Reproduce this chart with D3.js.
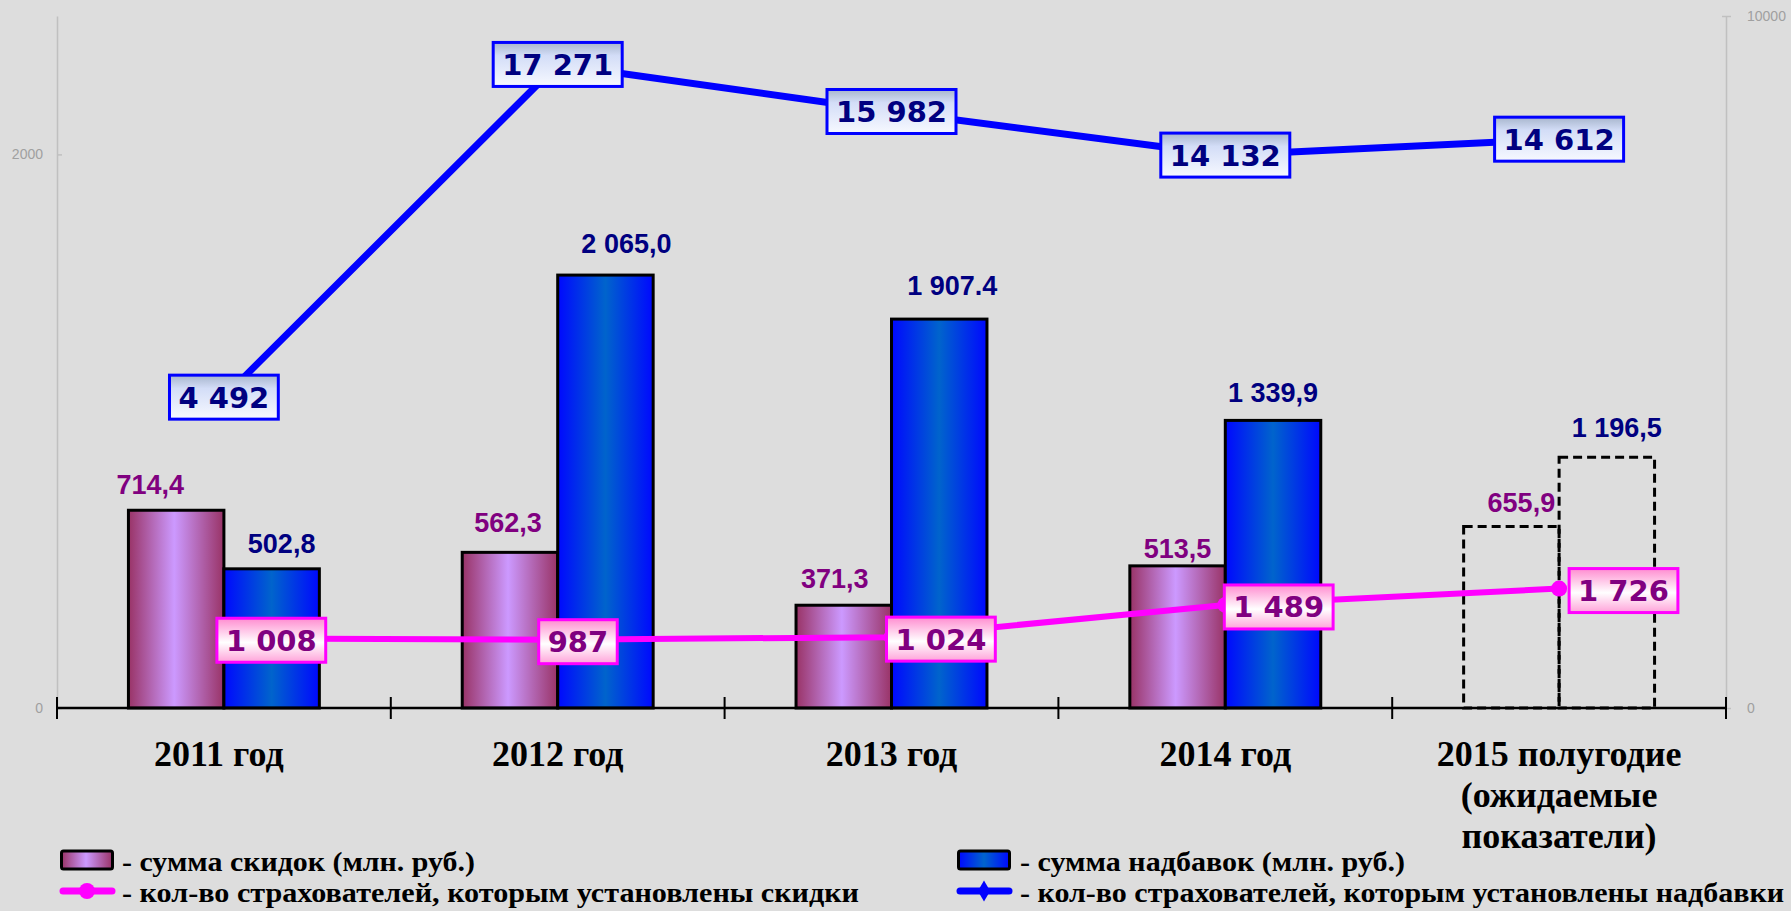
<!DOCTYPE html>
<html>
<head>
<meta charset="utf-8">
<title>Скидки и надбавки</title>
<script src="https://cdn.jsdelivr.net/npm/d3@7"></script>
<style>
body { margin: 0; background: #dddddd; }
svg { display: block; }
.axis-gray path, .axis-gray line { stroke: #c0c0c0; stroke-width: 1.5; }
.axis-gray text { fill: #a0a0a0; font-family: "Liberation Sans", Arial, sans-serif; font-size: 14px; }
.bar-label { font-family: "Liberation Sans", Arial, sans-serif; font-weight: bold; font-size: 27px; text-anchor: middle; }
.box-label { font-family: "DejaVu Sans", Verdana, sans-serif; font-weight: bold; font-size: 29px; }
.cat-label { font-family: "Liberation Serif", "Times New Roman", serif; font-weight: bold; font-size: 36px; text-anchor: middle; }
.legend text { font-family: "Liberation Serif", "Times New Roman", serif; font-weight: bold; font-size: 28px; }
</style>
</head>
<body>
<div id="chart"></div>
<script>

// categories (x axis)
var years = [["2011 год"], ["2012 год"], ["2013 год"], ["2014 год"], ["2015 полугодие", "(ожидаемые", "показатели)"]];
var forecast = [false, false, false, false, true];   // last year drawn as dashed outline

// сумма скидок (млн. руб.) - left axis
var discountSum = [714.4, 562.3, 371.3, 513.5, 655.9];
var discountSumText = ["714,4", "562,3", "371,3", "513,5", "655,9"];

// сумма надбавок (млн. руб.) - bar heights as read against the left axis, labels as printed
var surchargeSum = [502.8, 1564, 1405, 1039, 906];
var surchargeSumText = ["502,8", "2 065,0", "1 907.4", "1 339,9", "1 196,5"];

// кол-во страхователей со скидками - right axis
var discountCount = [1008, 987, 1024, 1489, 1726];
var discountCountText = ["1 008", "987", "1 024", "1 489", "1 726"];

// кол-во страхователей с надбавками - heights as read against the right axis, labels as printed
var surchargeCount = [4492, 9300, 8620, 7990, 8220];
var surchargeCountText = ["4 492", "17 271", "15 982", "14 132", "14 612"];

var leftTicks = [0, 2000];
var rightTicks = [0, 10000];

var legendItems = [
	{type: "bar", fill: "gradPink", text: "- сумма скидок (млн. руб.)"},
	{type: "bar", fill: "gradBlue", text: "- сумма надбавок (млн. руб.)"},
	{type: "line", color: "#ff00ff", marker: "circle", text: "- кол-во страхователей, которым установлены скидки"},
	{type: "line", color: "#0000ff", marker: "diamond", text: "- кол-во страхователей, которым установлены надбавки"}
];

var width = 1791,
	height = 911;

var x = d3.scaleBand()
	.domain(d3.range(years.length))
	.range([57, 1726]);

var barW = x.bandwidth() * 0.286;

var yL = d3.scaleLinear().domain([0, 2500]).range([708, 16]);
var yR = d3.scaleLinear().domain([0, 10000]).range([708, 16]);

function cx(i) { return x(i) + x.bandwidth() / 2; }

var svg = d3.select("#chart")
	.append("svg")
	.attr("width", width)
	.attr("height", height);

svg.append("rect").attr("width", width).attr("height", height).attr("fill", "#dddddd");

// gradients
var defs = svg.append("defs");

function gradient(id, vertical, stops) {
	var g = defs.append("linearGradient").attr("id", id)
		.attr("x1", 0).attr("y1", 0)
		.attr("x2", vertical ? 0 : 1).attr("y2", vertical ? 1 : 0);
	stops.forEach(function(s) {
		g.append("stop").attr("offset", s[0]).attr("stop-color", s[1]);
	});
}
gradient("gradPink", false, [[0, "#993366"], [0.48, "#cc99ff"], [1, "#993366"]]);
gradient("gradBlue", false, [[0, "#0008ff"], [0.5, "#0064cc"], [1, "#0008ff"]]);
gradient("boxBlue", true, [[0, "#a7b5cc"], [0.3, "#d3ddf7"], [1, "#f7f9ff"]]);
gradient("boxPink", true, [[0, "#ff8cd0"], [0.55, "#ffffff"], [1, "#ffa2d9"]]);

// gray value axes
var gLeft = svg.append("g")
	.attr("class", "axis-gray")
	.attr("transform", "translate(" + x.range()[0] + ",0)")
	.call(d3.axisLeft(yL).tickValues(leftTicks).tickSizeInner(4).tickSizeOuter(0).tickPadding(10).tickFormat(d3.format("d")));
gLeft.selectAll(".tick line").attr("x2", 5);

var gRight = svg.append("g")
	.attr("class", "axis-gray")
	.attr("transform", "translate(" + x.range()[1] + ",0)")
	.call(d3.axisRight(yR).tickValues(rightTicks).tickSizeInner(5).tickSizeOuter(0).tickPadding(16).tickFormat(d3.format("d")));
gRight.selectAll(".tick line").attr("x1", -4);

// bars
var cat = svg.selectAll(".cat")
	.data(d3.range(years.length))
	.enter().append("g")
	.attr("class", "cat")
	.attr("transform", function(i) { return "translate(" + cx(i) + ",0)"; });

function bars(values, offset, fill) {
	cat.append("rect")
		.attr("x", offset)
		.attr("y", function(i) { return yL(values[i]); })
		.attr("width", barW)
		.attr("height", function(i) { return yL(0) - yL(values[i]); })
		.attr("fill", function(i) { return forecast[i] ? "none" : "url(#" + fill + ")"; })
		.attr("stroke", "#000")
		.attr("stroke-width", 3)
		.attr("stroke-dasharray", function(i) { return forecast[i] ? "9,5" : null; });
}
bars(discountSum, -barW, "gradPink");
bars(surchargeSum, 0, "gradBlue");

// x axis
svg.append("line")
	.attr("x1", x.range()[0]).attr("x2", x.range()[1])
	.attr("y1", yL(0)).attr("y2", yL(0))
	.attr("stroke", "#000").attr("stroke-width", 2.5);

var bounds = x.domain().map(function(i) { return x(i); }).concat([x.range()[1]]);
svg.selectAll(".xtick")
	.data(bounds)
	.enter().append("line")
	.attr("class", "xtick")
	.attr("x1", function(d) { return d; }).attr("x2", function(d) { return d; })
	.attr("y1", yL(0) - 11).attr("y2", yL(0) + 11)
	.attr("stroke", "#000").attr("stroke-width", 2);

// bar value labels (hand placed in the original, small nudges)
var pinkNudge = [[-26, 16], [-2, 20], [-9, 17], [0, 8], [10, 14]];
var blueNudge = [[10, 16], [21, 22], [13, 24], [0, 18], [10, 20]];

cat.append("text")
	.attr("class", "bar-label")
	.attr("fill", "#800080")
	.attr("x", function(i) { return -barW / 2 + pinkNudge[i][0]; })
	.attr("y", function(i) { return yL(discountSum[i]) - pinkNudge[i][1]; })
	.text(function(i) { return discountSumText[i]; });

cat.append("text")
	.attr("class", "bar-label")
	.attr("fill", "#000080")
	.attr("x", function(i) { return barW / 2 + blueNudge[i][0]; })
	.attr("y", function(i) { return yL(surchargeSum[i]) - blueNudge[i][1]; })
	.text(function(i) { return surchargeSumText[i]; });

// lines
function drawLine(values, color, w) {
	var line = d3.line()
		.x(function(d, i) { return cx(i); })
		.y(function(d) { return yR(d); });
	svg.append("path")
		.datum(values)
		.attr("d", line)
		.attr("fill", "none")
		.attr("stroke", color)
		.attr("stroke-width", w)
		.attr("stroke-linejoin", "round");
}
drawLine(surchargeCount, "#0000ff", 7);
drawLine(discountCount, "#ff00ff", 6);

svg.selectAll(".dotPink")
	.data(discountCount)
	.enter().append("circle")
	.attr("cx", function(d, i) { return cx(i); })
	.attr("cy", function(d) { return yR(d); })
	.attr("r", 8)
	.attr("fill", "#ff00ff");

svg.selectAll(".dotBlue")
	.data(surchargeCount)
	.enter().append("path")
	.attr("d", d3.symbol(d3.symbolDiamond).size(160))
	.attr("transform", function(d, i) { return "translate(" + cx(i) + "," + yR(d) + ")"; })
	.attr("fill", "#0000ff");

// boxed labels on the lines
function boxLabel(tx, ty, str, anchorLeft, fill, stroke, color) {
	var g = svg.append("g");
	var t = g.append("text")
		.attr("class", "box-label")
		.attr("fill", color)
		.text(str);
	var w = t.node().getComputedTextLength(),
		bw = w + 18,
		bh = 44,
		left = anchorLeft ? tx : tx - bw / 2;
	t.attr("x", left + 9).attr("y", ty + 10.5);
	g.insert("rect", "text")
		.attr("x", left).attr("y", ty - bh / 2)
		.attr("width", bw).attr("height", bh)
		.attr("fill", "url(#" + fill + ")")
		.attr("stroke", stroke)
		.attr("stroke-width", 3);
}

surchargeCount.forEach(function(v, i) {
	boxLabel(cx(i), yR(v), surchargeCountText[i], false, "boxBlue", "#0000ff", "#000080");
});

var pinkBoxDx = [-7, -19, -5, -1, 10];
discountCount.forEach(function(v, i) {
	boxLabel(cx(i) + pinkBoxDx[i], yR(v) + 2, discountCountText[i], true, "boxPink", "#ff00ff", "#800080");
});

// category labels
var catText = svg.selectAll(".cat-label")
	.data(years)
	.enter().append("text")
	.attr("class", "cat-label")
	.attr("fill", "#000")
	.attr("y", 766);
catText.selectAll("tspan")
	.data(function(d, i) { return d.map(function(s) { return {s: s, i: i}; }); })
	.enter().append("tspan")
	.attr("x", function(d) { return cx(d.i) + (d.i == 0 ? -5 : 0); })
	.attr("dy", function(d, j) { return j == 0 ? 0 : 41; })
	.text(function(d) { return d.s; });

// legend
var legendPos = [[60, 860, 353], [957, 860, 385], [60, 891, 737], [957, 891, 764]];
var legend = svg.selectAll(".legend")
	.data(legendItems)
	.enter().append("g")
	.attr("class", "legend")
	.attr("transform", function(d, i) { return "translate(" + legendPos[i][0] + "," + legendPos[i][1] + ")"; });

legend.filter(function(d) { return d.type == "bar"; })
	.append("rect")
	.attr("x", 1.5).attr("y", -9)
	.attr("width", 51).attr("height", 18)
	.attr("rx", 2)
	.attr("fill", function(d) { return "url(#" + d.fill + ")"; })
	.attr("stroke", "#000")
	.attr("stroke-width", 3);

var lineItems = legend.filter(function(d) { return d.type == "line"; });
lineItems.append("line")
	.attr("x1", 3).attr("x2", 52)
	.attr("y1", 0).attr("y2", 0)
	.attr("stroke", function(d) { return d.color; })
	.attr("stroke-width", 7)
	.attr("stroke-linecap", "round");
lineItems.append("path")
	.attr("d", function(d) { return d3.symbol(d.marker == "circle" ? d3.symbolCircle : d3.symbolDiamond).size(d.marker == "circle" ? 200 : 130)(); })
	.attr("transform", "translate(27,0)")
	.attr("fill", function(d) { return d.color; });

legend.append("text")
	.attr("x", function(d, i) { return legendPos[i][0] == 60 ? 62 : 63; })
	.attr("y", function(d) { return d.type == "bar" ? 11 : 11; })
	.attr("textLength", function(d, i) { return legendPos[i][2]; })
	.attr("lengthAdjust", "spacingAndGlyphs")
	.attr("fill", "#000")
	.text(function(d) { return d.text; });

</script>
</body>
</html>
